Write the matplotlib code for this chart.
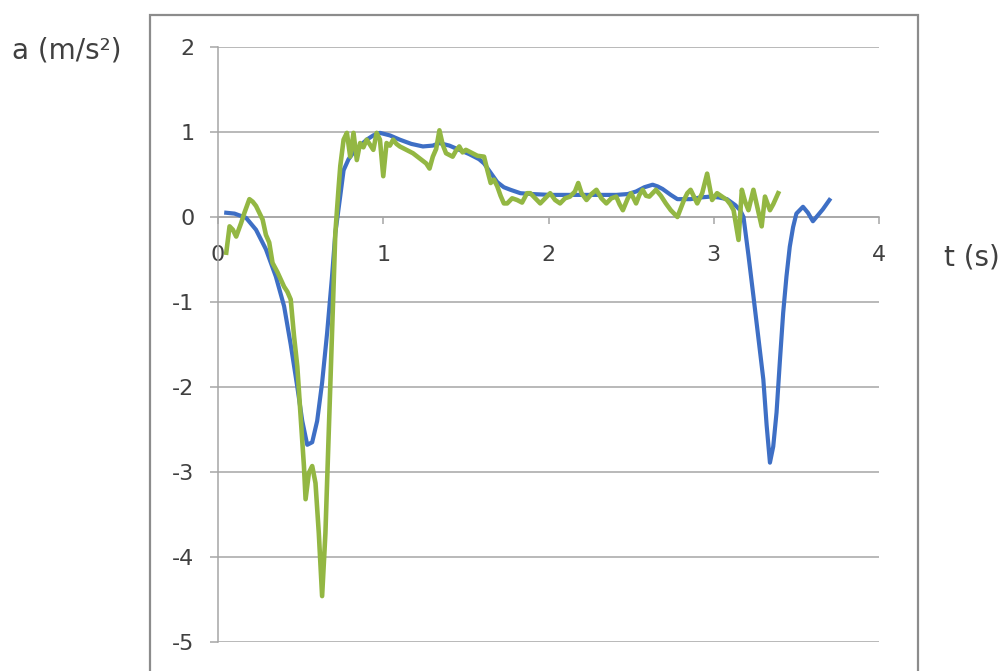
import matplotlib.pyplot as plt
from matplotlib.patches import Rectangle

# smooth (blue) series
blue_t = [0.05, 0.10, 0.17, 0.23, 0.29, 0.35, 0.40, 0.44, 0.48, 0.51, 0.54, 0.57,
          0.60, 0.63, 0.66, 0.69, 0.71, 0.74, 0.76, 0.79, 0.82, 0.86, 0.90, 0.94,
          0.98, 1.04, 1.10, 1.17, 1.24, 1.30, 1.34, 1.40, 1.46, 1.52, 1.58, 1.61,
          1.65, 1.69, 1.73, 1.77, 1.83, 1.90, 2.01, 2.11, 2.21, 2.31, 2.41, 2.48,
          2.53, 2.58, 2.63, 2.66, 2.69, 2.74, 2.78, 2.86, 2.92, 2.98, 3.03, 3.08,
          3.13, 3.16, 3.18, 3.21, 3.24, 3.27, 3.30, 3.32, 3.34, 3.36, 3.38, 3.40,
          3.42, 3.44, 3.46, 3.48, 3.50, 3.54, 3.57, 3.60, 3.63, 3.66, 3.70]
blue_a = [0.05, 0.04, -0.01, -0.15, -0.38, -0.70, -1.05, -1.50, -2.00, -2.40, -2.68, -2.65,
          -2.40, -1.95, -1.37, -0.70, -0.19, 0.25, 0.55, 0.68, 0.76, 0.84, 0.91, 0.96,
          0.99, 0.96, 0.91, 0.86, 0.83, 0.84, 0.87, 0.84, 0.79, 0.74, 0.68, 0.63,
          0.52, 0.41, 0.35, 0.32, 0.28, 0.27, 0.26, 0.26, 0.26, 0.26, 0.26, 0.27,
          0.30, 0.35, 0.38, 0.36, 0.33, 0.26, 0.21, 0.21, 0.23, 0.24, 0.23, 0.21,
          0.14, 0.08, 0.00, -0.45, -0.93, -1.42, -1.91, -2.45, -2.89, -2.70, -2.30, -1.70,
          -1.13, -0.70, -0.35, -0.12, 0.04, 0.12, 0.05, -0.05, 0.02, 0.09, 0.20]

# noisy (green) series
green_t = [0.05, 0.07, 0.09, 0.11, 0.14, 0.16, 0.19, 0.21, 0.23, 0.25, 0.27, 0.29,
           0.31, 0.33, 0.36, 0.40, 0.42, 0.44, 0.46, 0.48, 0.50, 0.52, 0.53, 0.55,
           0.57, 0.59, 0.61, 0.63, 0.65, 0.67, 0.69, 0.71, 0.73, 0.74, 0.76, 0.78,
           0.80, 0.82, 0.84, 0.86, 0.88, 0.90, 0.92, 0.94, 0.96, 0.98, 1.00, 1.02,
           1.04, 1.06, 1.08, 1.10, 1.14, 1.18, 1.22, 1.26, 1.28, 1.30, 1.32, 1.34,
           1.36, 1.38, 1.40, 1.42, 1.44, 1.46, 1.48, 1.50, 1.54, 1.57, 1.61, 1.63,
           1.65, 1.67, 1.69, 1.71, 1.73, 1.75, 1.78, 1.81, 1.84, 1.87, 1.89, 1.92,
           1.95, 1.98, 2.01, 2.04, 2.07, 2.10, 2.13, 2.16, 2.18, 2.20, 2.23, 2.26,
           2.29, 2.32, 2.35, 2.38, 2.41, 2.43, 2.45, 2.48, 2.50, 2.53, 2.55, 2.57,
           2.59, 2.61, 2.63, 2.65, 2.68, 2.71, 2.74, 2.78, 2.80, 2.82, 2.84, 2.86,
           2.88, 2.90, 2.93, 2.96, 2.99, 3.02, 3.05, 3.08, 3.10, 3.12, 3.15, 3.17,
           3.19, 3.21, 3.24, 3.26, 3.29, 3.31, 3.34, 3.36, 3.39]
green_a = [-0.42, -0.11, -0.15, -0.23, -0.07, 0.05, 0.21, 0.18, 0.13, 0.05, -0.03, -0.21,
           -0.30, -0.54, -0.65, -0.82, -0.88, -0.97, -1.40, -1.76, -2.34, -2.93, -3.32, -3.01,
           -2.93, -3.13, -3.72, -4.46, -3.72, -2.54, -1.37, -0.19, 0.35, 0.60, 0.91, 0.99,
           0.71, 0.99, 0.67, 0.87, 0.82, 0.91, 0.85, 0.79, 0.99, 0.91, 0.48, 0.87,
           0.84, 0.91, 0.86, 0.83, 0.79, 0.75, 0.69, 0.63, 0.57, 0.71, 0.80, 1.02,
           0.85, 0.75, 0.73, 0.71, 0.78, 0.83, 0.76, 0.79, 0.75, 0.72, 0.71, 0.55,
           0.40, 0.44, 0.36, 0.25, 0.16, 0.16, 0.22, 0.20, 0.17, 0.28, 0.28, 0.22,
           0.16, 0.22, 0.28, 0.20, 0.16, 0.22, 0.24, 0.30, 0.40, 0.28, 0.20, 0.27,
           0.32, 0.22, 0.16, 0.22, 0.24, 0.15, 0.08, 0.22, 0.28, 0.16, 0.26, 0.32,
           0.25, 0.24, 0.28, 0.32, 0.25, 0.16, 0.08, 0.00, 0.10, 0.20, 0.28, 0.32,
           0.24, 0.16, 0.28, 0.51, 0.20, 0.28, 0.24, 0.20, 0.15, 0.08, -0.27, 0.32,
           0.18, 0.08, 0.32, 0.15, -0.11, 0.24, 0.08, 0.15, 0.28]

x_ticks = [0, 1, 2, 3, 4]
y_ticks = [-5, -4, -3, -2, -1, 0, 1, 2]

W, H = 1007, 671
fig = plt.figure(figsize=(W / 100, H / 100), dpi=100)
fig.patch.set_facecolor("white")

# outer chart frame (runs off the bottom of the image)
fig.patches.append(Rectangle((150 / W, -0.05), (918 - 150) / W, 1.05 - 15 / H,
                             transform=fig.transFigure, fill=False,
                             edgecolor="#8c8c8c", linewidth=1.6))

ax = fig.add_axes([218 / W, 1 - 642 / H, (879 - 218) / W, (642 - 47) / H])
ax.set_xlim(0, 4)
ax.set_ylim(-5, 2)

grid_c = "#a6a6a6"
txt_c = "#404040"

ax.plot(blue_t, blue_a, color="#3e6fc5", linewidth=3.0, solid_joinstyle="round", zorder=3)
ax.plot(green_t, green_a, color="#93b743", linewidth=3.3, solid_joinstyle="round", zorder=4)

ax.set_yticks(y_ticks)
ax.set_xticks(x_ticks)
ax.grid(axis="y", color=grid_c, linewidth=1.1)
ax.grid(axis="x", visible=False)
ax.set_axisbelow(True)

for side in ["top", "right"]:
    ax.spines[side].set_visible(False)
ax.spines["left"].set_color(grid_c)
ax.spines["left"].set_linewidth(1.1)
ax.spines["bottom"].set_position(("data", 0))
ax.spines["bottom"].set_color(grid_c)
ax.spines["bottom"].set_linewidth(1.1)

ax.tick_params(axis="y", direction="out", length=6, width=1.1, color=grid_c,
               pad=11, labelsize=16, labelcolor=txt_c)
ax.tick_params(axis="x", direction="out", length=5, width=1.1, color=grid_c,
               pad=15, labelsize=16, labelcolor=txt_c)
ax.set_yticklabels([str(v) for v in y_ticks])
ax.set_xticklabels([str(v) for v in x_ticks])

fig.text(12 / W, 1 - 50 / H, "a (m/s²)", fontsize=20, color=txt_c,
         ha="left", va="center")
fig.text(944 / W, 1 - 258 / H, "t (s)", fontsize=20, color=txt_c,
         ha="left", va="center")

fig.savefig("out.png", dpi=100)
